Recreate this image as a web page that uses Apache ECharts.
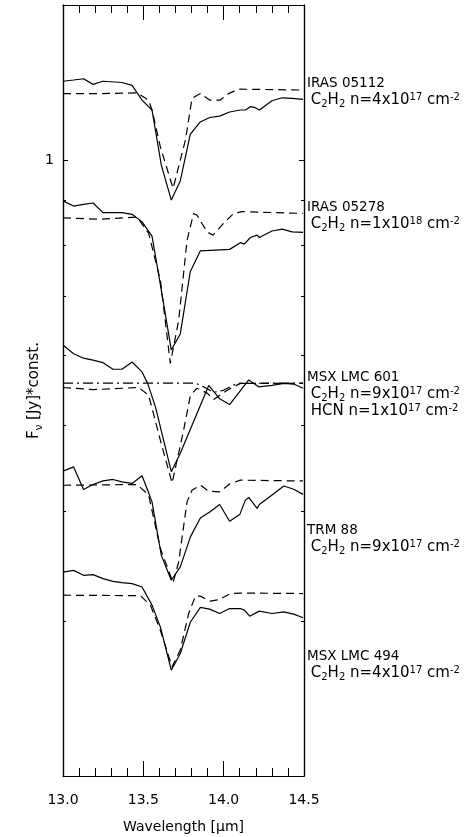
<!DOCTYPE html>
<html><head><meta charset="utf-8">
<script src="https://cdn.jsdelivr.net/npm/echarts@6/dist/echarts.min.js"></script>
<style>html,body{margin:0;padding:0;background:#fff}#c{width:473px;height:837px}</style>
</head><body><div id="c"></div>
<script>
// ---- data (wavelength in micron, flux * const) ----
const xTicks = [13.0, 13.5, 14.0, 14.5];
const yMajorTicks = [1];
const yMinorTicks = [0.3, 0.4, 0.5, 0.6, 0.7, 0.8, 0.9];

const obs05112 = [[13.000,1.229],[13.066,1.233],[13.128,1.237],[13.187,1.219],[13.249,1.229],[13.367,1.225],[13.430,1.216],[13.492,1.170],[13.554,1.140],[13.612,0.987],[13.674,0.901],[13.730,0.947],[13.792,1.070],[13.854,1.105],[13.913,1.118],[13.975,1.122],[14.037,1.134],[14.104,1.140],[14.135,1.140],[14.166,1.150],[14.191,1.148],[14.222,1.140],[14.301,1.168],[14.364,1.177],[14.426,1.175],[14.494,1.172]];
const mod05112 = [[13.000,1.190],[13.232,1.190],[13.461,1.192],[13.533,1.170],[13.554,1.140],[13.606,1.035],[13.685,0.929],[13.762,1.054],[13.803,1.175],[13.855,1.190],[13.913,1.170],[13.979,1.170],[14.031,1.190],[14.093,1.204],[14.494,1.201]];

const obs05278 = [[13.000,0.899],[13.066,0.887],[13.128,0.891],[13.187,0.894],[13.249,0.872],[13.367,0.872],[13.430,0.868],[13.492,0.851],[13.554,0.820],[13.612,0.712],[13.674,0.609],[13.730,0.635],[13.792,0.747],[13.855,0.789],[14.037,0.792],[14.104,0.806],[14.129,0.803],[14.166,0.817],[14.208,0.822],[14.222,0.817],[14.301,0.831],[14.364,0.835],[14.426,0.829],[14.494,0.828]];
const mod05278 = [[13.000,0.860],[13.232,0.857],[13.461,0.862],[13.533,0.826],[13.606,0.731],[13.668,0.588],[13.720,0.658],[13.772,0.811],[13.813,0.870],[13.834,0.866],[13.897,0.829],[13.934,0.822],[14.000,0.848],[14.062,0.870],[14.115,0.874],[14.494,0.870]];

const obs601 = [[13.000,0.617],[13.066,0.603],[13.128,0.596],[13.187,0.593],[13.249,0.589],[13.311,0.579],[13.367,0.579],[13.430,0.590],[13.492,0.575],[13.527,0.558],[13.575,0.525],[13.674,0.443],[13.730,0.465],[13.907,0.555],[13.975,0.536],[14.037,0.528],[14.156,0.563],[14.218,0.553],[14.301,0.555],[14.374,0.558],[14.436,0.557],[14.494,0.551]];
const mod601 = [[13.000,0.552],[13.191,0.549],[13.471,0.552],[13.533,0.541],[13.606,0.481],[13.679,0.430],[13.751,0.494],[13.793,0.541],[13.834,0.551],[13.897,0.544],[13.938,0.535],[14.021,0.548],[14.104,0.558],[14.494,0.558]];
const hcn601 = [[13.000,0.5585],[13.824,0.5585],[13.875,0.553],[13.938,0.545],[13.998,0.548],[14.083,0.558],[14.494,0.5585]];

const obsTRM88 = [[13.000,0.4436],[13.066,0.4486],[13.128,0.4229],[13.187,0.4284],[13.249,0.4325],[13.311,0.4341],[13.367,0.4314],[13.430,0.4296],[13.492,0.4383],[13.527,0.4221],[13.554,0.4094],[13.612,0.356],[13.674,0.3336],[13.730,0.3454],[13.793,0.3736],[13.855,0.3926],[13.913,0.3988],[13.975,0.4066],[14.037,0.3892],[14.100,0.396],[14.135,0.4113],[14.156,0.4142],[14.208,0.4025],[14.222,0.4066],[14.301,0.4168],[14.374,0.4268],[14.436,0.4231],[14.494,0.4175]];
const modTRM88 = [[13.000,0.4276],[13.461,0.4284],[13.533,0.4168],[13.606,0.3624],[13.685,0.3315],[13.720,0.350],[13.772,0.4094],[13.803,0.4221],[13.855,0.4276],[13.907,0.421],[13.975,0.4203],[14.042,0.4296],[14.104,0.4333],[14.436,0.4325],[14.494,0.4325]];

const obs494 = [[13.000,0.3408],[13.066,0.3423],[13.128,0.3379],[13.187,0.3385],[13.249,0.335],[13.311,0.3326],[13.367,0.3315],[13.430,0.3306],[13.492,0.3277],[13.554,0.3126],[13.606,0.2953],[13.674,0.2637],[13.730,0.2755],[13.793,0.2991],[13.855,0.3107],[13.913,0.3093],[13.975,0.3058],[14.037,0.3098],[14.104,0.3098],[14.129,0.3085],[14.162,0.3037],[14.222,0.3077],[14.301,0.3058],[14.374,0.3071],[14.436,0.3053],[14.494,0.3024]];
const mod494 = [[13.000,0.3208],[13.481,0.3204],[13.544,0.3126],[13.606,0.2927],[13.679,0.266],[13.730,0.278],[13.782,0.3058],[13.824,0.320],[13.855,0.320],[13.917,0.3158],[13.969,0.317],[14.042,0.3222],[14.104,0.3226],[14.494,0.3222]];

// ---- labels ----
const sourceNames = ['IRAS 05112', 'IRAS 05278', 'MSX LMC 601', 'TRM 88', 'MSX LMC 494'];
const modelLines = [
  [' C{s|2}H{s|2} n=4x10{p|17} cm{p|-2}'],
  [' C{s|2}H{s|2} n=1x10{p|18} cm{p|-2}'],
  [' C{s|2}H{s|2} n=9x10{p|17} cm{p|-2}', ' HCN n=1x10{p|17} cm{p|-2}'],
  [' C{s|2}H{s|2} n=9x10{p|17} cm{p|-2}'],
  [' C{s|2}H{s|2} n=4x10{p|17} cm{p|-2}']
];
const xTitle = 'Wavelength [μm]';
const yTitle = '{t|F}{s|ν}{t| [Jy]*const.}';

// ---- layout / style ----
const FONT = 'DejaVu Sans';
const labelTop = [75, 199, 369, 522, 648];
const LH = 17;

const chart = echarts.init(document.getElementById('c'));
const line = {color: '#000', width: 1.2};

function xAx(pos, showLabel) {
  return {
    type: 'value', position: pos, min: 13, max: 14.5, interval: 0.5,
    axisLine: {show: true, onZero: false, lineStyle: line},
    axisTick: {show: true, inside: true, length: 15, lineStyle: {color: '#000', width: 1}},
    minorTick: {show: true, splitNumber: 5, length: 8, lineStyle: {color: '#000', width: 1}},
    axisLabel: {show: showLabel, formatter: v => v.toFixed(1), fontFamily: FONT, fontSize: 14, color: '#000', margin: 17},
    splitLine: {show: false}, minorSplitLine: {show: false},
    name: showLabel ? xTitle : '', nameLocation: 'middle', nameGap: 44, nameMoveOverlap: false,
    nameTextStyle: {fontFamily: FONT, fontSize: 14, color: '#000'}
  };
}
function yAx(pos, values, len, showLabel, withName) {
  return {
    type: 'log', logBase: 10, min: 0.2, max: 1.5, position: pos,
    axisLine: {show: true, onZero: false, lineStyle: line},
    axisTick: {show: true, inside: true, length: len, customValues: values, lineStyle: {color: '#000', width: 1}},
    axisLabel: {show: showLabel, customValues: values, formatter: v => String(Math.round(v * 10) / 10), fontFamily: FONT, fontSize: 14, color: '#000', margin: 9},
    splitLine: {show: false}, minorTick: {show: false},
    name: withName ? yTitle : '', nameLocation: 'middle', nameGap: 19, nameRotate: 90, nameMoveOverlap: false,
    nameTextStyle: {fontFamily: FONT, fontSize: 15, color: '#000',
      rich: {t: {fontFamily: FONT, fontSize: 15, lineHeight: 19, color: '#000'},
             s: {fontFamily: FONT, fontSize: 10, lineHeight: 10, verticalAlign: 'bottom', color: '#000'}}}
  };
}
function ser(data, type) {
  return {type: 'line', data: data, xAxisIndex: 0, yAxisIndex: 0, showSymbol: false, symbol: 'none',
    silent: true, animation: false, clip: true,
    lineStyle: {color: '#000', width: 1.2, type: type}};
}
const DASH = [8, 5], DASHDOT = [10, 4, 2, 4];

const rich = {
  s: {fontFamily: FONT, fontSize: 10, lineHeight: 9, verticalAlign: 'bottom', fill: '#000', color: '#000'},
  p: {fontFamily: FONT, fontSize: 10, lineHeight: 9, verticalAlign: 'top', fill: '#000', color: '#000'}
};

const graphics = [];
sourceNames.forEach((n, i) => {
  graphics.push({type: 'text', x: 307, y: labelTop[i], silent: true,
    style: {text: n, fontFamily: FONT, fontSize: 13.5, lineHeight: LH, fill: '#000', verticalAlign: 'top', align: 'left'}});
  modelLines[i].forEach((t, k) => {
    graphics.push({type: 'text', x: 306, y: labelTop[i] + LH * (k + 1), silent: true,
      style: {text: t, rich: rich, fontFamily: FONT, fontSize: 15, lineHeight: LH, fill: '#000', verticalAlign: 'top', align: 'left'}});
  });
});

chart.setOption({
  animation: false,
  backgroundColor: '#fff',
  grid: {left: 63, right: 169, top: 5, bottom: 61, containLabel: false, outerBoundsMode: 'none'},
  xAxis: [xAx('bottom', true), xAx('top', false)],
  yAxis: [yAx('left', yMajorTicks, 5, true, true), yAx('left', yMinorTicks, 3, false, false),
          yAx('right', yMajorTicks, 5, false, false), yAx('right', yMinorTicks, 3, false, false)],
  series: [
    ser(obs05112, 'solid'), ser(mod05112, DASH),
    ser(obs05278, 'solid'), ser(mod05278, DASH),
    ser(obs601, 'solid'), ser(mod601, DASH), ser(hcn601, DASHDOT),
    ser(obsTRM88, 'solid'), ser(modTRM88, DASH),
    ser(obs494, 'solid'), ser(mod494, DASH)
  ],
  graphic: graphics
});
</script></body></html>
